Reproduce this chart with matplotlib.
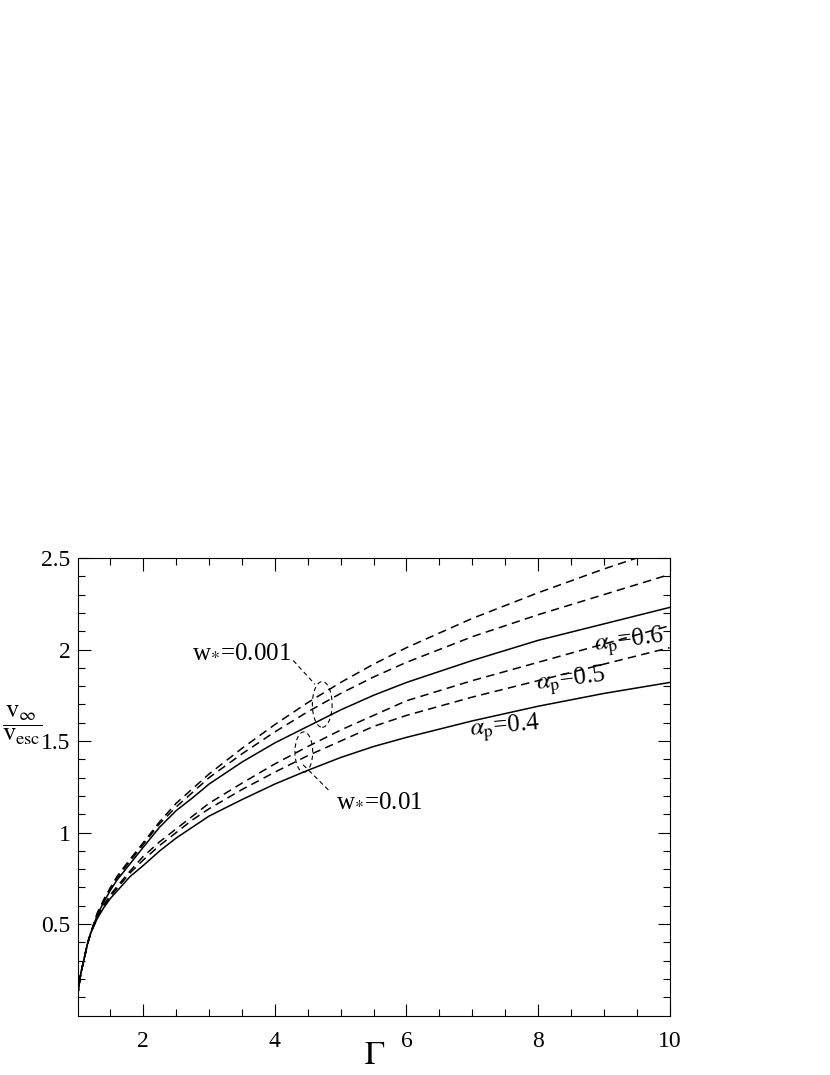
import numpy as np
import matplotlib.pyplot as plt
from matplotlib.patches import Ellipse

plt.rcParams['font.family'] = 'serif'
plt.rcParams['font.serif'] = ['Liberation Serif', 'DejaVu Serif']
plt.rcParams['mathtext.fontset'] = 'stix'

# Gamma grid and curves
gamma = [1.0, 1.02, 1.05, 1.1, 1.15, 1.2, 1.3, 1.4, 1.5, 1.6, 1.8, 2.0, 2.25,
         2.5, 2.75, 3.0, 3.5, 4.0, 4.5, 5.0, 5.5, 6.0, 7.0, 8.0, 9.0, 10.0]

# w* = 0.001
w001_a04 = [0.10, 0.16, 0.23, 0.31, 0.39, 0.45, 0.55, 0.62, 0.685, 0.74, 0.83, 0.92, 1.03,
            1.12, 1.19, 1.265, 1.385, 1.49, 1.58, 1.67, 1.75, 1.82, 1.94, 2.05, 2.14, 2.23]
w001_a05 = [0.10, 0.16, 0.23, 0.31, 0.39, 0.45, 0.555, 0.63, 0.695, 0.75, 0.845, 0.935, 1.05,
            1.14, 1.22, 1.30, 1.43, 1.55, 1.66, 1.76, 1.85, 1.93, 2.07, 2.19, 2.30, 2.41]
w001_a06 = [0.10, 0.16, 0.23, 0.31, 0.39, 0.45, 0.56, 0.635, 0.70, 0.76, 0.855, 0.945, 1.06,
            1.16, 1.24, 1.32, 1.46, 1.59, 1.71, 1.82, 1.92, 2.01, 2.17, 2.31, 2.44, 2.56]

# w* = 0.01
w01_a04 = [0.10, 0.16, 0.23, 0.31, 0.39, 0.45, 0.53, 0.59, 0.64, 0.68, 0.76, 0.82, 0.90,
           0.97, 1.03, 1.09, 1.18, 1.265, 1.34, 1.41, 1.47, 1.52, 1.61, 1.69, 1.76, 1.82]
w01_a05 = [0.10, 0.16, 0.23, 0.31, 0.39, 0.45, 0.535, 0.60, 0.65, 0.695, 0.78, 0.85, 0.93,
           1.00, 1.07, 1.13, 1.235, 1.33, 1.42, 1.50, 1.58, 1.64, 1.74, 1.83, 1.92, 2.01]
w01_a06 = [0.10, 0.16, 0.23, 0.31, 0.39, 0.45, 0.54, 0.605, 0.66, 0.705, 0.79, 0.87, 0.95,
           1.02, 1.09, 1.16, 1.27, 1.375, 1.47, 1.56, 1.64, 1.72, 1.83, 1.93, 2.03, 2.13]

fig = plt.figure(figsize=(8.3, 10.75), dpi=100)
ax = fig.add_axes([0.0934, 0.0553, 0.7133, 0.4256])

dash = (5.5, 3.5)
for ys in (w001_a04, w01_a04):
    ax.plot(gamma, ys, color='black', lw=1.1)
for ys in (w001_a05, w001_a06, w01_a05, w01_a06):
    ax.plot(gamma, ys, color='black', lw=1.1, linestyle=(0, dash))

# group markers
ax.add_patch(Ellipse((4.72, 1.70), 0.30, 0.25, fill=False, lw=0.8,
                     linestyle=(0, (4, 3)), color='black'))
ax.add_patch(Ellipse((4.44, 1.44), 0.27, 0.22, fill=False, lw=0.8,
                     linestyle=(0, (4, 3)), color='black'))
ax.plot([4.28, 4.61], [1.94, 1.81], color='black', lw=0.8, linestyle=(0, (4, 3)))
ax.plot([4.43, 4.85], [1.37, 1.22], color='black', lw=0.8, linestyle=(0, (4, 3)))

ax.text(3.50, 1.99, r'w$_{*}$=0.001', fontsize=18, ha='center', va='center')
ax.text(5.58, 1.18, r'w$_{*}$=0.01', fontsize=18, ha='center', va='center')
ax.text(7.5, 1.57, r'$\alpha_{\mathrm{p}}$=0.4', fontsize=18, ha='center', va='center', rotation=5)
ax.text(8.5, 1.83, r'$\alpha_{\mathrm{p}}$=0.5', fontsize=18, ha='center', va='center', rotation=7)
ax.text(9.38, 2.04, r'$\alpha_{\mathrm{p}}$=0.6', fontsize=18, ha='center', va='center', rotation=7)

ax.set_xlim(1, 10)
ax.set_ylim(0, 2.5)
ax.set_xticks([2, 4, 6, 8, 10])
ax.set_xticks(np.arange(1.5, 10, 0.5), minor=True)
ax.set_yticks([0.5, 1, 1.5, 2, 2.5])
ax.set_yticklabels(['0.5', '1', '1.5', '2', '2.5'])
ax.set_yticks(np.arange(0.1, 2.5, 0.1), minor=True)
ax.tick_params(which='both', direction='in', top=True, right=True, labelsize=17, width=0.8)
ax.tick_params(which='major', length=9)
ax.tick_params(which='minor', length=5)
ax.tick_params(axis='x', which='major', pad=11)
ax.tick_params(axis='y', which='major', pad=5)
for s in ax.spines.values():
    s.set_linewidth(0.8)

# axis labels placed by hand like the original
fig.text(375 / 830, 1 - 1056 / 1075, r'$\Gamma$', fontsize=24, ha='center', va='center')
fig.text(22 / 830, 1 - 725 / 1075, r'$\dfrac{\mathrm{v}_{\infty}}{\mathrm{v}_{\mathrm{esc}}}$',
         fontsize=19, ha='center', va='center')

fig.savefig('out.png', dpi=100)
